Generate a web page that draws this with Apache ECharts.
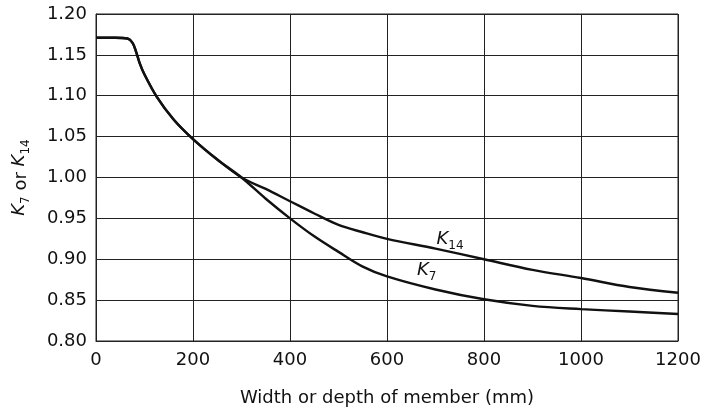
<!DOCTYPE html>
<html>
<head>
<meta charset="utf-8">
<script src="https://cdn.jsdelivr.net/npm/echarts@6/dist/echarts.min.js"></script>
<style>
html,body{margin:0;padding:0;background:#fff;}
#c{width:704px;height:412px;}
</style>
</head>
<body>
<div id="c"></div>
<script>
// Width or depth of member (mm)
const widths = [0, 40, 65, 75, 82, 90, 100, 125, 160, 200, 250, 300, 350, 400, 450, 500, 550, 600, 700, 800, 900, 1000, 1100, 1200];
const k7Values = [1.171, 1.171, 1.170, 1.165, 1.155, 1.140, 1.126, 1.099, 1.071, 1.047, 1.022, 1.000, 0.974, 0.950, 0.928, 0.909, 0.891, 0.879, 0.863, 0.851, 0.843, 0.839, 0.836, 0.833];
const k14Values = [1.171, 1.171, 1.170, 1.165, 1.155, 1.140, 1.126, 1.099, 1.071, 1.047, 1.022, 1.000, 0.986, 0.971, 0.956, 0.942, 0.933, 0.925, 0.913, 0.900, 0.887, 0.877, 0.866, 0.859];
const xTicks = [0, 200, 400, 600, 800, 1000, 1200];
const yTicks = [0.80, 0.85, 0.90, 0.95, 1.00, 1.05, 1.10, 1.15, 1.20];
const k14LabelPos = [730, 0.922];
const k7LabelPos = [682, 0.884];

const FONT = 'DejaVu Sans';
const INK = '#111';
const pair = (xs, ys) => xs.map((x, i) => [x, ys[i]]);

const subRich = {
  k: { fontFamily: FONT, fontStyle: 'italic', fontSize: 18, color: INK, lineHeight: 22, verticalAlign: 'top' },
  s: { fontFamily: FONT, fontSize: 12, color: INK, lineHeight: 22, verticalAlign: 'bottom', padding: [8, 0, 0, 0] },
  t: { fontFamily: FONT, fontSize: 18, color: INK, lineHeight: 22 }
};

const chart = echarts.init(document.getElementById('c'), null, { renderer: 'canvas' });
chart.setOption({
  animation: false,
  backgroundColor: '#ffffff',
  grid: { left: 96, right: 26, top: 14, bottom: 70, show: true, borderColor: '#222', borderWidth: 1 },
  xAxis: {
    type: 'value',
    min: xTicks[0], max: xTicks[xTicks.length - 1], interval: 200,
    name: 'Width or depth of member (mm)',
    nameLocation: 'middle', nameGap: 48,
    nameTextStyle: { fontFamily: FONT, fontSize: 18, color: INK },
    axisLine: { show: true, lineStyle: { color: '#222', width: 1 } },
    axisTick: { show: false },
    axisLabel: { fontFamily: FONT, fontSize: 18, color: INK, margin: 10, formatter: v => String(v) },
    splitLine: { show: true, lineStyle: { color: '#222', width: 1 } }
  },
  yAxis: {
    type: 'value',
    min: yTicks[0], max: yTicks[yTicks.length - 1], interval: 0.05,
    name: '{k|K}{s|7}{t| or }{k|K}{s|14}',
    nameLocation: 'middle', nameGap: 64, nameRotate: 90,
    nameTextStyle: { rich: subRich },
    axisLine: { show: true, lineStyle: { color: '#222', width: 1 } },
    axisTick: { show: false },
    axisLabel: { fontFamily: FONT, fontSize: 18, color: INK, margin: 9, formatter: v => v.toFixed(2) },
    splitLine: { show: true, lineStyle: { color: '#222', width: 1 } }
  },
  series: [
    {
      name: 'K14', type: 'line', data: pair(widths, k14Values),
      smooth: 0.35, showSymbol: false, symbol: 'none',
      lineStyle: { color: INK, width: 2.4 },
      markPoint: {
        symbol: 'circle', symbolSize: 0, itemStyle: { color: 'transparent' },
        label: { show: true, position: 'inside', formatter: '{k|K}{s|14}', rich: subRich },
        data: [{ coord: k14LabelPos }]
      }
    },
    {
      name: 'K7', type: 'line', data: pair(widths, k7Values),
      smooth: 0.35, showSymbol: false, symbol: 'none',
      lineStyle: { color: INK, width: 2.4 },
      markPoint: {
        symbol: 'circle', symbolSize: 0, itemStyle: { color: 'transparent' },
        label: { show: true, position: 'inside', formatter: '{k|K}{s|7}', rich: subRich },
        data: [{ coord: k7LabelPos }]
      }
    }
  ]
});
</script>
</body>
</html>
